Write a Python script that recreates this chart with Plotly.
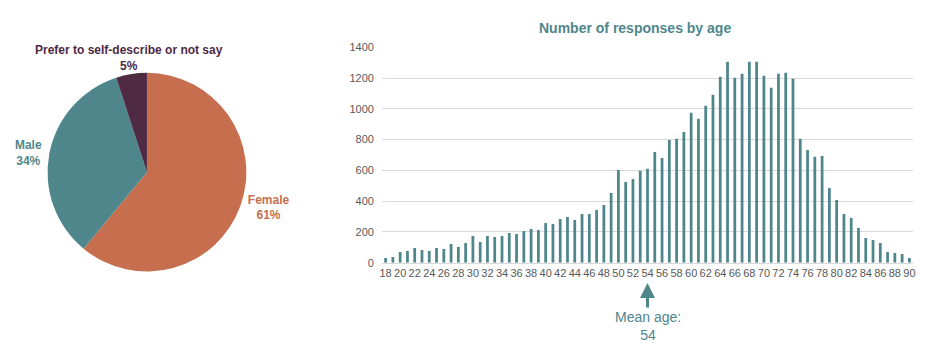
import plotly.graph_objects as go

# ---- data ----
gender_labels = ["Female", "Male", "Prefer to self-describe or not say"]
gender_values = [61, 34, 5]
gender_colors = ["#C66E4D", "#4E868C", "#4E2A43"]

ages = list(range(18, 91))
responses = [30, 37, 69, 76, 95, 82, 76, 95, 89, 121,
             102, 128, 174, 134, 174, 167, 174, 193, 187, 206,
             219, 213, 258, 252, 284, 297, 278, 317, 317, 343,
             375, 453, 603, 525, 544, 597, 610, 720, 681, 798,
             805, 850, 974, 935, 1020, 1091, 1208, 1306, 1202, 1228,
             1306, 1306, 1215, 1137, 1228, 1234, 1195, 805, 733, 688,
             694, 486, 408, 317, 291, 226, 161, 148, 128, 69,
             63, 56, 30]
tick_ages = list(range(18, 91, 2))
y_ticks = [0, 200, 400, 600, 800, 1000, 1200, 1400]
mean_age = 54
title_text = "Number of responses by age"

TEAL = "#4E868C"
FONT = "Liberation Sans, Arial, sans-serif"

total = sum(gender_values)
pct = [round(100 * v / total) for v in gender_values]

fig = go.Figure()

fig.add_trace(go.Pie(
    labels=gender_labels,
    values=gender_values,
    marker=dict(colors=gender_colors, line=dict(width=0)),
    sort=False,
    direction="clockwise",
    rotation=0,
    textposition="outside",
    texttemplate=["<b>%{label}<br>%{percent:.0%}</b>",
                  "<b>%{label}<br>%{percent:.0%}</b>",
                  ""],
    outsidetextfont=dict(family=FONT, size=12, color=gender_colors),
    showlegend=False,
    automargin=False,
    domain=dict(x=[0.051, 0.264], y=[0.2215, 0.7917]),
))

fig.add_trace(go.Bar(
    x=ages,
    y=responses,
    marker=dict(color=TEAL, line=dict(width=0)),
    showlegend=False,
    xaxis="x",
    yaxis="y",
))

fig.update_layout(
    width=933,
    height=349,
    margin=dict(l=0, r=0, t=0, b=0, autoexpand=False),
    paper_bgcolor="white",
    plot_bgcolor="white",
    bargap=0.62,
    font=dict(family=FONT),
    xaxis=dict(
        domain=[0.4094, 0.9786],
        range=[17.5, 90.5],
        tickmode="array",
        tickvals=tick_ages,
        ticktext=[str(a) for a in tick_ages],
        tickangle=0,
        tickfont=dict(size=11, color="#595959"),
        showgrid=False,
        showline=True,
        linecolor="#D9D9D9",
        linewidth=1,
        ticks="",
        zeroline=False,
        automargin=False,
        anchor="y",
    ),
    yaxis=dict(
        domain=[0.2473, 0.8645],
        range=[0, 1400],
        tickvals=y_ticks,
        tickfont=dict(size=11, color="#595959"),
        showgrid=True,
        gridcolor="#D9D9D9",
        gridwidth=1,
        zeroline=False,
        ticks="",
        ticklabelstandoff=7,
        automargin=False,
        anchor="x",
    ),
    annotations=[
        dict(
            text="<b>" + title_text + "</b>",
            xref="paper", yref="paper",
            x=635 / 933, y=(349 - 28) / 349,
            xanchor="center", yanchor="middle",
            showarrow=False,
            font=dict(size=14, color=TEAL, family=FONT),
        ),
        dict(
            text="<b>" + gender_labels[2] + "<br>" + str(pct[2]) + "%</b>",
            xref="paper", yref="paper",
            x=128.5 / 933, y=(349 - 57.5) / 349,
            xanchor="center", yanchor="middle",
            showarrow=False,
            font=dict(size=12, color=gender_colors[2], family=FONT),
        ),
        dict(
            text="Mean age:<br>" + str(mean_age),
            xref="x", yref="paper",
            x=mean_age, y=(349 - 283) / 349,
            showarrow=True,
            arrowhead=2,
            arrowsize=1,
            arrowwidth=3,
            arrowcolor=TEAL,
            ax=0, ay=43,
            standoff=0,
            font=dict(size=14, color=TEAL, family=FONT),
        ),
    ],
)

fig.write_html("out.html")
